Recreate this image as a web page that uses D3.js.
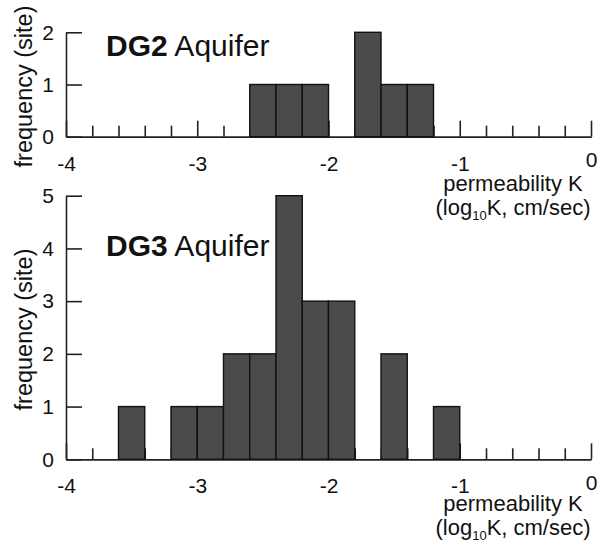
<!DOCTYPE html>
<html>
<head>
<meta charset="utf-8">
<script src="https://cdn.jsdelivr.net/npm/d3@7"></script>
<style>
  html, body { margin: 0; padding: 0; background: #fff; }
  svg { display: block; }
  text { font-family: "Liberation Sans", Arial, sans-serif; fill: #111; }
</style>
</head>
<body>
<svg id="chart" width="611" height="542"></svg>
<script>
// ---- data ----
const binStarts = [-4.0, -3.8, -3.6, -3.4, -3.2, -3.0, -2.8, -2.6, -2.4, -2.2,
                   -2.0, -1.8, -1.6, -1.4, -1.2, -1.0, -0.8, -0.6, -0.4, -0.2];
const binWidth = 0.2;
const dg2Counts = [0, 0, 0, 0, 0, 0, 0, 1, 1, 1, 0, 2, 1, 1, 0, 0, 0, 0, 0, 0];
const dg3Counts = [0, 0, 1, 0, 1, 1, 2, 2, 5, 3, 3, 0, 2, 0, 1, 0, 0, 0, 0, 0];
const xMajorTicks = [-4, -3, -2, -1, 0];
const xMinorTicks = [-3.8, -3.6, -3.4, -3.2, -2.8, -2.6, -2.4, -2.2, -1.8, -1.6,
                     -1.4, -1.2, -0.8, -0.6, -0.4, -0.2];
const dg2YTicks = [0, 1, 2];
const dg3YTicks = [0, 1, 2, 3, 4, 5];
const panels = [
  { id: "DG2", title: "DG2", counts: dg2Counts, yTicks: dg2YTicks, yMax: 2 },
  { id: "DG3", title: "DG3", counts: dg3Counts, yTicks: dg3YTicks, yMax: 5 }
];

// ---- layout ----
const svg = d3.select("#chart");
const defs = svg.append("defs");
defs.append("clipPath").attr("id", "pageclip")
  .append("rect").attr("x", 0).attr("y", 0).attr("width", 597).attr("height", 542);

const root = svg.append("g").attr("clip-path", "url(#pageclip)");

const x = d3.scaleLinear().domain([-4, 0]).range([66, 591]);
const layouts = [
  { y0: 136.7, yTop: 32.3, titleY: 56, labelY1: 191, labelY2: 215 },
  { y0: 459.3, yTop: 195.7, titleY: 256, labelY1: 511, labelY2: 535 }
];

panels.forEach((p, i) => {
  const L = layouts[i];
  const y = d3.scaleLinear().domain([0, p.yMax]).range([L.y0, L.yTop]);
  const g = root.append("g");

  // minor x ticks
  const minorAxis = d3.axisBottom(x).tickValues(xMinorTicks)
    .tickSizeInner(-11).tickSizeOuter(0).tickFormat("");
  const gMinor = g.append("g").attr("transform", `translate(0,${L.y0})`).call(minorAxis);

  // major x ticks with labels
  const majorAxis = d3.axisBottom(x).tickValues(xMajorTicks)
    .tickSizeInner(-16).tickSizeOuter(0).tickPadding(19)
    .tickFormat(d => d3.format("d")(d).replace("−", "-"));
  const gMajor = g.append("g").attr("transform", `translate(0,${L.y0})`).call(majorAxis);

  [gMinor, gMajor].forEach(ax => {
    ax.selectAll("path.domain").attr("stroke", "#222").attr("stroke-width", 1.6);
    ax.selectAll(".tick line").attr("stroke", "#222").attr("stroke-width", 1.6);
  });
  gMajor.selectAll(".tick text")
    .attr("font-size", 21).attr("fill", "#111")
    .attr("font-family", '"Liberation Sans", Arial, sans-serif')
    .attr("dy", (d) => d === 0 ? "0.55em" : "0.71em");

  // y axis
  const yAxis = d3.axisLeft(y).tickValues(p.yTicks)
    .tickSizeInner(-16).tickSizeOuter(0).tickPadding(12).tickFormat(d3.format("d"));
  const gy = g.append("g").attr("transform", `translate(${x(-4)},0)`).call(yAxis);
  gy.selectAll("path.domain").attr("stroke", "#222").attr("stroke-width", 1.6);
  gy.selectAll(".tick line").attr("stroke", "#222").attr("stroke-width", 1.6);
  gy.selectAll(".tick text")
    .attr("font-size", 21).attr("fill", "#111")
    .attr("font-family", '"Liberation Sans", Arial, sans-serif');

  // bars
  const data = binStarts.map((b, j) => ({ x0: b, x1: b + binWidth, c: p.counts[j] }))
    .filter(d => d.c > 0);
  g.append("g").selectAll("rect").data(data).join("rect")
    .attr("x", d => x(d.x0))
    .attr("width", d => x(d.x1) - x(d.x0))
    .attr("y", d => y(d.c))
    .attr("height", d => y(0) - y(d.c))
    .attr("fill", "#4b4b4b")
    .attr("stroke", "#111")
    .attr("stroke-width", 1.4);

  // title
  const t = g.append("text").attr("x", 106).attr("y", L.titleY).attr("font-size", 30);
  t.append("tspan").attr("font-weight", "bold").text(p.title);
  t.append("tspan").text(" Aquifer");

  // y label
  g.append("text")
    .attr("transform", `translate(32,${(L.y0 + L.yTop) / 2 + 2}) rotate(-90)`)
    .attr("text-anchor", "middle")
    .attr("font-size", 23.5)
    .text("frequency (site)");

  // x label
  g.append("text").attr("x", 513).attr("y", L.labelY1)
    .attr("text-anchor", "middle").attr("font-size", 22)
    .text("permeability K");
  const xl2 = g.append("text").attr("x", 513).attr("y", L.labelY2)
    .attr("text-anchor", "middle").attr("font-size", 22);
  xl2.append("tspan").text("(log");
  xl2.append("tspan").attr("font-size", 13).attr("dy", 5).text("10");
  xl2.append("tspan").attr("dy", -5).text("K, cm/sec)");
});
</script>
</body>
</html>
